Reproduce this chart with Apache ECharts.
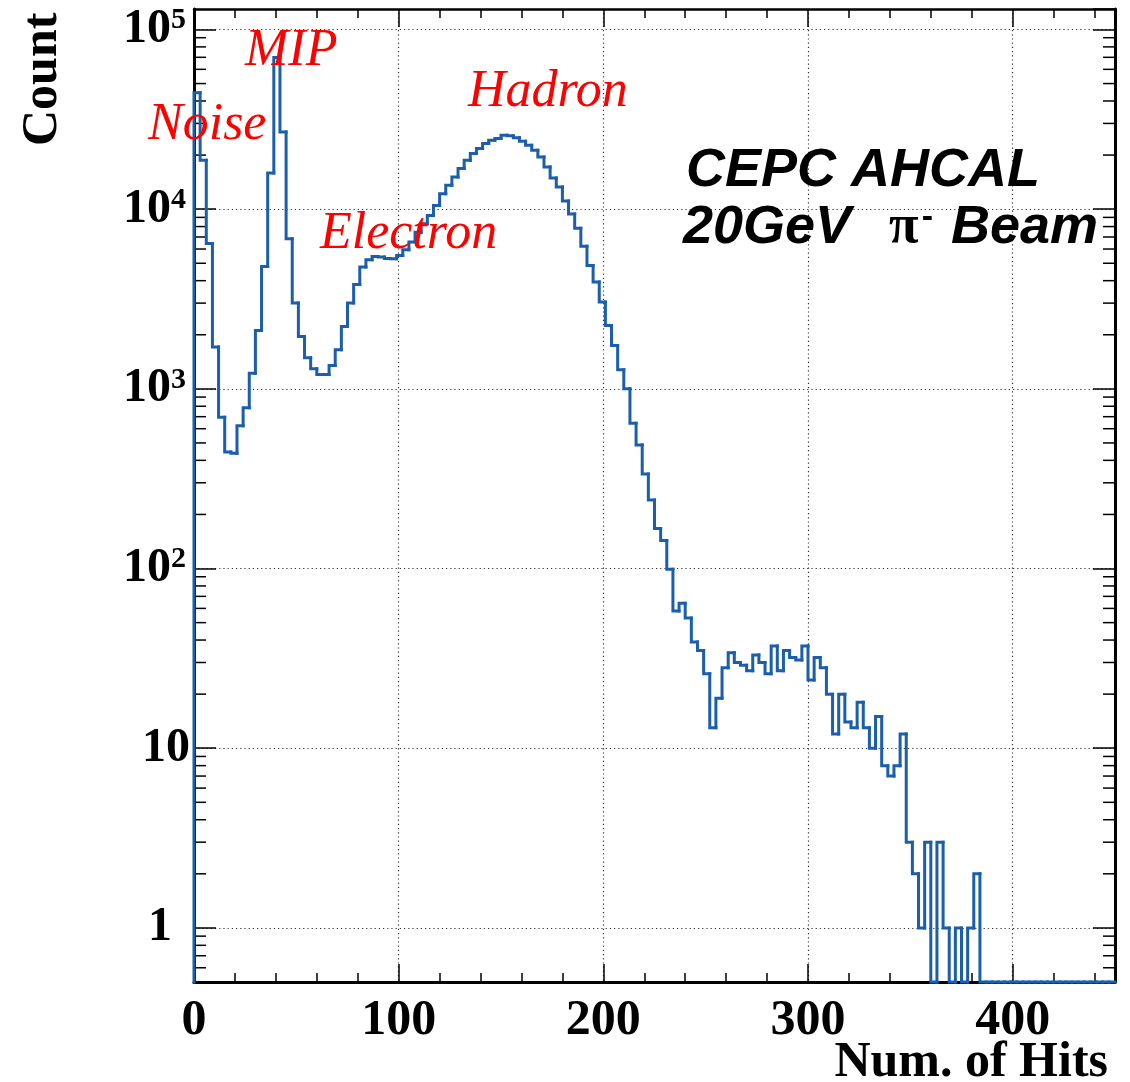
<!DOCTYPE html>
<html>
<head>
<meta charset="utf-8">
<script src="https://cdn.jsdelivr.net/npm/echarts@6/dist/echarts.min.js"></script>
<style>
  html, body { margin: 0; padding: 0; background: #ffffff; }
  #chart { width: 1130px; height: 1082px; }
</style>
</head>
<body>
<div id="chart"></div>
<script>
// Hit multiplicity per event, 3-hit wide bins from 0 to 450
const binWidth = 3;
const xMin = 0;
const xMax = 450;
const yMin = 0.5;
const yMax = 1.3e5;

// Events per bin (bin i covers [3i, 3i+3))
const counts = [
  44400, 18700, 6430, 1710, 695, 445, 438, 624, 784, 1222,
  2113, 4800, 15890, 69800, 26900, 6850, 3000, 1955, 1489, 1292,
  1202, 1202, 1349, 1649, 2223, 3000, 3810, 4760, 5230, 5460,
  5420, 5320, 5300, 5530, 5950, 6560, 7450, 8300, 9230, 10490,
  12200, 13580, 15100, 16820, 18710, 20380, 21730, 23170, 24150, 24700,
  25780, 25600, 25000, 23870, 22670, 21260, 19500, 17160, 14900, 13300,
  11100, 9400, 7840, 6220, 4860, 3930, 3040, 2250, 1740, 1276,
  1000, 643, 487, 336, 241, 167, 143, 99, 58, 64,
  53, 39, 35, 26, 13, 19, 28, 34, 30, 29,
  27, 33, 30, 26, 37, 27, 35, 32, 31, 37,
  24, 32, 28, 20, 12, 20, 14, 13, 18, 13,
  10, 15, 8, 7, 8, 12, 3, 2, 1, 3,
  0, 3, 1, 0, 1, 0, 1, 2, 0, 0,
  0, 0, 0, 0, 0, 0, 0, 0, 0, 0,
  0, 0, 0, 0, 0, 0, 0, 0, 0, 0
];

// Axis tick settings
const xMajorStep = 100;
const xMinorStep = 20;
const yMinorMultipliers = [2, 3, 4, 5, 6, 7, 8, 9];
const yDecadeExponents = [-1, 0, 1, 2, 3, 4];

// Text
const xTitle = 'Num. of Hits';
const yTitle = 'Count';
const peakNames = ['Noise', 'MIP', 'Electron', 'Hadron'];
const beamLine1 = 'CEPC AHCAL';

const lineBlue = '#1b5eab';
const serif = "'Liberation Serif', 'Times New Roman', serif";
const sans = "'Liberation Sans', Arial, Helvetica, sans-serif";

// Histogram bins as [low edge, high edge, count, previous count]
const binData = counts.map((c, i) => [
  i * binWidth, (i + 1) * binWidth, c, i > 0 ? counts[i - 1] : 0
]);

// Logarithmic minor tick values inside the y range
const yMinorValues = [];
yDecadeExponents.forEach(k => {
  yMinorMultipliers.forEach(m => {
    const v = m * Math.pow(10, k);
    if (v > yMin && v < yMax) yMinorValues.push([v]);
  });
});

function renderBin(params, api) {
  const lo = api.value(0);
  const hi = api.value(1);
  const c = api.value(2);
  const prev = api.value(3);
  const yPix = v => api.coord([lo, Math.max(v, yMin)])[1];
  const x0 = api.coord([lo, yMin])[0];
  const x1 = api.coord([hi, yMin])[0];
  return {
    type: 'polyline',
    shape: { points: [[x0, yPix(prev)], [x0, yPix(c)], [x1, yPix(c)]] },
    style: { stroke: lineBlue, lineWidth: 3, fill: null, lineCap: 'square', lineJoin: 'miter' }
  };
}

function renderMinorTick(params, api) {
  const v = api.value(0);
  const left = api.coord([xMin, v]);
  const right = api.coord([xMax, v]);
  const len = 12;
  return {
    type: 'group',
    children: [
      { type: 'line', shape: { x1: left[0], y1: left[1], x2: left[0] + len, y2: left[1] },
        style: { stroke: '#000', lineWidth: 1.5 } },
      { type: 'line', shape: { x1: right[0], y1: right[1], x2: right[0] - len, y2: right[1] },
        style: { stroke: '#000', lineWidth: 1.5 } }
    ]
  };
}

function yLabel(value) {
  const k = Math.round(Math.log10(value));
  if (k === 0) return '{one|1}';
  if (k === 1) return '{b|10}';
  return '{b|10}{s|' + k + '}';
}

const gridDots = { color: '#333', width: 1.2, type: [1.2, 3] };

const chart = echarts.init(document.getElementById('chart'), null, { renderer: 'canvas' });

chart.setOption({
  backgroundColor: '#ffffff',
  animation: false,
  grid: { left: 194, right: 15, top: 9, bottom: 100, containLabel: false },
  xAxis: [
    {
      type: 'value', position: 'bottom', min: xMin, max: xMax, interval: xMajorStep,
      axisLine: { onZero: false, lineStyle: { color: '#000', width: 3 } },
      axisTick: { inside: true, length: 18, lineStyle: { color: '#000', width: 1.5 } },
      splitLine: { show: true, lineStyle: gridDots },
      axisLabel: {
        show: true, showMaxLabel: false, margin: 14, color: '#000',
        fontFamily: serif, fontWeight: 'bold', fontSize: 50
      }
    },
    {
      type: 'value', position: 'bottom', min: xMin, max: xMax, interval: xMinorStep,
      axisLine: { show: false, onZero: false },
      axisTick: { inside: true, length: 9, lineStyle: { color: '#000', width: 1.5 } },
      splitLine: { show: false },
      axisLabel: { show: false }
    },
    {
      type: 'value', position: 'top', min: xMin, max: xMax, interval: xMajorStep,
      axisLine: { onZero: false, lineStyle: { color: '#000', width: 2.5 } },
      axisTick: { inside: true, length: 18, lineStyle: { color: '#000', width: 1.5 } },
      splitLine: { show: false },
      axisLabel: { show: false }
    },
    {
      type: 'value', position: 'top', min: xMin, max: xMax, interval: xMinorStep,
      axisLine: { show: false, onZero: false },
      axisTick: { inside: true, length: 9, lineStyle: { color: '#000', width: 1.5 } },
      splitLine: { show: false },
      axisLabel: { show: false }
    }
  ],
  yAxis: [
    {
      type: 'log', logBase: 10, position: 'left', min: yMin, max: yMax,
      axisLine: { onZero: false, lineStyle: { color: '#000', width: 3 } },
      axisTick: { inside: true, length: 22, lineStyle: { color: '#000', width: 1.5 } },
      splitLine: { show: true, lineStyle: gridDots },
      axisLabel: {
        show: true, showMinLabel: false, showMaxLabel: false, margin: 4,
        formatter: yLabel,
        rich: {
          b: { fontFamily: serif, fontWeight: 'bold', fontSize: 48, color: '#000', lineHeight: 48 },
          one: { fontFamily: serif, fontWeight: 'bold', fontSize: 48, color: '#000', lineHeight: 48, padding: [0, 18, 0, 0] },
          s: { fontFamily: serif, fontWeight: 'bold', fontSize: 30, color: '#000', verticalAlign: 'top', lineHeight: 30, padding: [0, 4, 0, 0] }
        }
      }
    },
    {
      type: 'log', logBase: 10, position: 'right', min: yMin, max: yMax,
      axisLine: { onZero: false, lineStyle: { color: '#000', width: 3 } },
      axisTick: { inside: true, length: 22, lineStyle: { color: '#000', width: 1.5 } },
      splitLine: { show: false },
      axisLabel: { show: false }
    }
  ],
  series: [
    {
      type: 'custom', name: 'minor ticks', xAxisIndex: 0, yAxisIndex: 0,
      renderItem: renderMinorTick, data: yMinorValues, encode: { y: 0 },
      silent: true, z: 3
    },
    {
      type: 'custom', name: 'hits', xAxisIndex: 0, yAxisIndex: 0,
      renderItem: renderBin, data: binData, encode: { x: [0, 1], y: 2 },
      silent: true, clip: false, z: 4
    }
  ],
  graphic: [
    // peak labels
    { type: 'text', left: 148, top: 99, z: 10,
      style: { text: peakNames[0], font: 'italic 52px ' + serif, fill: '#ff0000' } },
    { type: 'text', left: 245, top: 25, z: 10,
      style: { text: peakNames[1], font: 'italic 52px ' + serif, fill: '#ff0000' } },
    { type: 'text', left: 320, top: 208, z: 10,
      style: { text: peakNames[2], font: 'italic 52px ' + serif, fill: '#ff0000' } },
    { type: 'text', left: 468, top: 66, z: 10,
      style: { text: peakNames[3], font: 'italic 52px ' + serif, fill: '#ff0000' } },
    // beam description
    { type: 'text', left: 686, top: 144, z: 10,
      style: { text: beamLine1, font: 'italic bold 54px ' + sans, fill: '#000' } },
    { type: 'text', left: 683, top: 201, z: 10,
      style: {
        text: '{t|20GeV}{g|}{p|π}{m|-}{t| Beam}',
        rich: {
          t: { font: 'italic bold 54px ' + sans, fill: '#000' },
          g: { width: 38 },
          p: { font: 'bold 54px ' + serif, fill: '#000' },
          m: { font: 'bold 34px ' + sans, fill: '#000', verticalAlign: 'top', padding: [0, 3, 0, 3] }
        }
      } },
    // axis titles
    { type: 'text', x: 18, y: 146, rotation: Math.PI / 2, z: 10,
      style: { text: yTitle, font: 'bold 50px ' + serif, fill: '#000', textAlign: 'left', textVerticalAlign: 'top' } },
    { type: 'text', right: 22, top: 1038, z: 10,
      style: { text: xTitle, font: 'bold 50px ' + serif, fill: '#000' } }
  ]
});
</script>
</body>
</html>
